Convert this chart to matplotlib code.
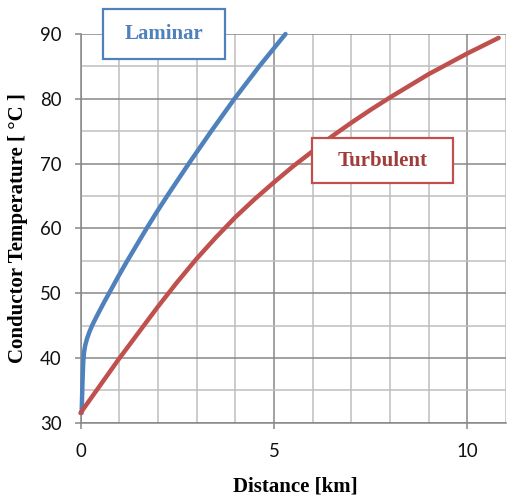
import matplotlib
matplotlib.use('Agg')
import matplotlib.pyplot as plt
from matplotlib.patches import Rectangle
from matplotlib.ticker import MultipleLocator, FixedLocator

# ---- data ----
laminar_km = [0.03, 0.05, 0.07, 0.09, 0.12, 0.17, 0.23, 0.30, 0.40, 0.50, 0.62,
              0.74, 0.97, 1.21, 1.46, 1.71, 1.97, 2.24, 2.52, 2.80, 3.09, 3.38,
              3.68, 3.98, 4.30, 4.62, 4.96, 5.30]
laminar_temp = [31.5, 36.0, 39.3, 40.8, 41.9, 43.0, 44.0, 45.0, 46.2, 47.35, 48.7,
                50.0, 52.5, 55.0, 57.5, 60.0, 62.5, 65.0, 67.5, 70.0, 72.5, 75.0,
                77.5, 80.0, 82.5, 85.0, 87.5, 90.0]

turbulent_km = [0.0, 0.5, 1.0, 1.5, 2.0, 2.5, 3.0, 3.5, 4.0, 4.5, 5.0, 5.5, 6.0,
                6.5, 7.0, 7.5, 8.0, 8.5, 9.0, 9.5, 10.0, 10.81]
turbulent_temp = [31.5, 35.7, 39.9, 43.9, 47.9, 51.7, 55.3, 58.6, 61.7, 64.5, 67.1,
                  69.6, 71.9, 74.2, 76.3, 78.3, 80.2, 82.0, 83.8, 85.4, 87.0, 89.4]

x_ticks = [0, 5, 10]
y_ticks = [30, 40, 50, 60, 70, 80, 90]
x_label = 'Distance [km]'
y_label = 'Conductor Temperature [ °C ]'
series_names = ['Laminar', 'Turbulent']

# ---- styling ----
W, H = 509, 497
blue = '#4F81BD'
red = '#C0504D'
grid_major = '#878787'
grid_minor = '#BFBFBF'

fig = plt.figure(figsize=(W / 100, H / 100), dpi=100)
ax = fig.add_axes([80.5 / W, 74.3 / H, 425.5 / W, 388.7 / H])

ax.plot(laminar_km, laminar_temp, color=blue, lw=3.2, solid_capstyle='round',
        solid_joinstyle='round', zorder=3, clip_on=False)
ax.plot(turbulent_km, turbulent_temp, color=red, lw=3.2, solid_capstyle='round',
        solid_joinstyle='round', zorder=3, clip_on=False)

ax.set_xlim(0, 11)
ax.set_ylim(30, 90)

ax.xaxis.set_major_locator(FixedLocator(x_ticks))
ax.yaxis.set_major_locator(FixedLocator(y_ticks))
ax.xaxis.set_minor_locator(MultipleLocator(1))
ax.yaxis.set_minor_locator(MultipleLocator(5))

ax.grid(which='minor', color=grid_minor, lw=1.1, zorder=0)
ax.grid(which='major', color=grid_major, lw=1.1, zorder=1)
ax.set_axisbelow(True)

for s in ['top', 'right']:
    ax.spines[s].set_visible(False)
for s in ['left', 'bottom']:
    ax.spines[s].set_color(grid_major)
    ax.spines[s].set_linewidth(1.1)

ax.tick_params(which='major', direction='out', length=4.3, width=1.1,
               color=grid_major, labelsize=13.4, labelcolor='#111111')
ax.tick_params(axis='y', which='major', pad=9.5)
ax.tick_params(axis='x', which='major', pad=10)
ax.tick_params(which='minor', length=0)
for lab in ax.get_xticklabels() + ax.get_yticklabels():
    lab.set_fontfamily('Lato')

# axis labels
fig.text(295 / W, 1 - 486.5 / H, x_label, ha='center', va='center',
         fontfamily='Liberation Serif', fontweight='bold', fontsize=15)
fig.text(18.5 / W, 1 - 228 / H, y_label, ha='center', va='center', rotation=90,
         fontfamily='Liberation Serif', fontweight='bold', fontsize=15)

# annotation boxes
def label_box(x0, x1, y0, y1, text, edge, tcolor):
    ax.add_patch(Rectangle((x0, y0), x1 - x0, y1 - y0, facecolor='white',
                           edgecolor=edge, lw=1.6, zorder=5, clip_on=False))
    ax.text((x0 + x1) / 2, (y0 + y1) / 2, text, ha='center', va='center',
            color=tcolor, fontfamily='Liberation Serif', fontweight='bold',
            fontsize=15, zorder=6, clip_on=False)

label_box(0.576, 3.747, 86.14, 93.86, series_names[0], blue, '#4F81BD')
label_box(5.99, 9.64, 66.95, 73.9, series_names[1], red, '#A03D3B')

fig.savefig('out.png', dpi=100)
